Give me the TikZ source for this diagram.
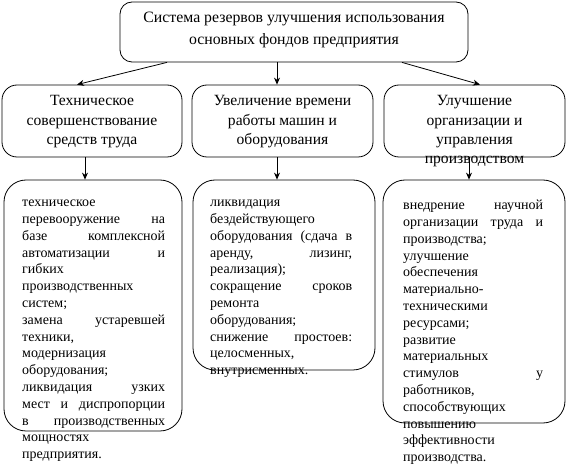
\documentclass[tikz,border=0pt]{standalone}
\usepackage{fontspec}
\setmainfont{Liberation Serif}
\usetikzlibrary{arrows.meta}
\tikzset{
  box/.style={draw, line width=0.8pt, rectangle, inner sep=0pt},
  arr/.style={draw, line width=0.8pt, -{Stealth[length=7pt,width=6pt]}},
  btext/.style={inner sep=0pt, anchor=north west, align=left, font=\fontsize{14}{16.8}\selectfont},
  mtext/.style={inner sep=0pt, anchor=north, align=center, font=\fontsize{15.6}{19.3}\selectfont}
}
\begin{document}
\begin{tikzpicture}[x=1pt,y=-1pt]
\useasboundingbox (0,0) rectangle (566,465);
% boxes
\node[box, rounded corners=12pt, minimum width=348pt, minimum height=60pt] (top) at (294,32) {};
\node[box, rounded corners=15pt, minimum width=180pt, minimum height=72pt] (A) at (92,121) {};
\node[box, rounded corners=15pt, minimum width=181pt, minimum height=72pt] (B) at (282.5,121) {};
\node[box, rounded corners=15pt, minimum width=181pt, minimum height=72pt] (C) at (474.5,121) {};
\node[box, rounded corners=22pt, minimum width=178pt, minimum height=251pt] (A3) at (93,305.5) {};
\node[box, rounded corners=22pt, minimum width=182pt, minimum height=190pt] (B3) at (284,275) {};
\node[box, rounded corners=22pt, minimum width=182pt, minimum height=243pt] (C3) at (474,301.5) {};
% texts
\node[inner sep=0pt, align=center, font=\fontsize{15.8}{22}\selectfont] (toptext) at (294,30)
  {Система резервов улучшения использования\\основных фондов предприятия};
\node[mtext] (Atext) at (92,95.5) {Техническое\\совершенствование\\средств труда};
\node[mtext] (Btext) at (282.5,95.5) {Увеличение времени\\работы машин и\\оборудования};
\node[mtext] (Ctext) at (474.5,95.5) {Улучшение\\организации и\\управления\\производством};
\node[btext, text width=143pt] (A3text) at (22,200) {%
техническое\\
перевооружение\hfill на\\
базе\hfill комплексной\\
автоматизации\hfill и\\
гибких\\
производственных\\
систем;\\
замена\hfill устаревшей\\
техники,\\
модернизация\\
оборудования;\\
ликвидация\hfill узких\\
мест\hfill и\hfill диспропорции\\
в\hfill производственных\\
мощностях\\
предприятия.};
\node[btext, text width=142pt] (B3text) at (210,200) {%
ликвидация\\
бездействующего\\
оборудования\hfill (сдача\hfill в\\
аренду,\hfill лизинг,\\
реализация);\\
сокращение\hfill сроков\\
ремонта\\
оборудования;\\
снижение\hfill простоев:\\
целосменных,\\
внутрисменных.};
\node[btext, text width=140pt] (C3text) at (403,200) {%
внедрение\hfill научной\\
организации\hfill труда\hfill и\\
производства;\\
улучшение\\
обеспечения\\
материально-\\
техническими\\
ресурсами;\\
развитие\\
материальных\\
стимулов\hfill у\\
работников,\\
способствующих\\
повышению\\
эффективности\\
производства.};
% connectors
\draw[arr] ([xshift=-127pt]top.south) -- ([xshift=-15pt]A.north);
\draw[arr] ([xshift=-17pt]top.south) -- ([xshift=-5.5pt]B.north);
\draw[arr] ([xshift=108pt]top.south) -- ([xshift=5.5pt]C.north);
\draw[arr] ([xshift=-7pt]A.south) -- ([xshift=-8pt]A3.north);
\draw[arr] ([xshift=-5.5pt]B.south) -- ([xshift=-7pt]B3.north);
\draw[arr] ([xshift=-5.5pt]C.south) -- ([xshift=-5pt]C3.north);
\end{tikzpicture}
\end{document}
